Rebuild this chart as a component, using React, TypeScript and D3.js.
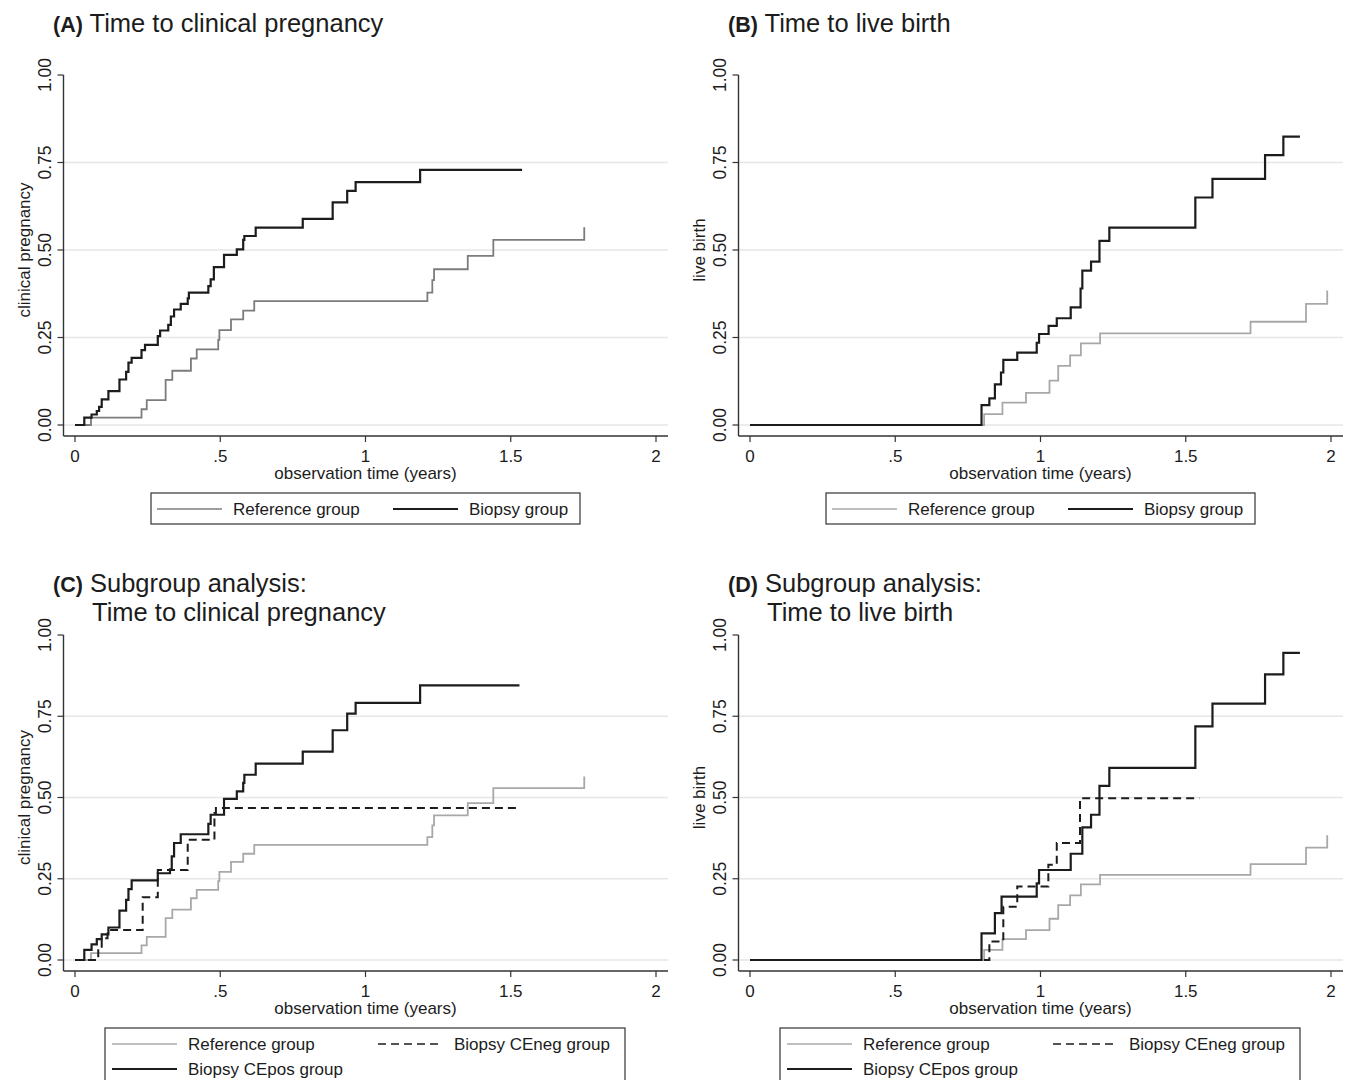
import React from 'react';
import * as d3 from 'd3';

type Pt = [number, number];

// cumulative proportions: [years, proportion]
const refPregnancy: Pt[] = [
  [0, 0], [0.055, 0.021], [0.229, 0.045], [0.247, 0.071], [0.312, 0.129], [0.335, 0.155],
  [0.399, 0.19], [0.419, 0.216], [0.493, 0.243], [0.497, 0.271], [0.537, 0.302], [0.579, 0.327],
  [0.617, 0.354], [1.213, 0.378], [1.23, 0.414], [1.236, 0.445], [1.352, 0.483], [1.44, 0.529],
  [1.753, 0.565],
];

const biopsyPregnancy: Pt[] = [
  [0, 0], [0.032, 0.021], [0.057, 0.03], [0.075, 0.04], [0.083, 0.052], [0.092, 0.073],
  [0.115, 0.097], [0.153, 0.13], [0.176, 0.152], [0.184, 0.178], [0.195, 0.192], [0.229, 0.214],
  [0.241, 0.229], [0.285, 0.254], [0.293, 0.27], [0.321, 0.286], [0.33, 0.31], [0.341, 0.33],
  [0.364, 0.346], [0.388, 0.362], [0.392, 0.378], [0.459, 0.397], [0.467, 0.416], [0.478, 0.451],
  [0.513, 0.486], [0.557, 0.502], [0.579, 0.529], [0.583, 0.54], [0.622, 0.564], [0.784, 0.589],
  [0.887, 0.636], [0.937, 0.669], [0.966, 0.694], [1.188, 0.729], [1.539, 0.729],
];

const refLiveBirth: Pt[] = [
  [0, 0], [0.806, 0.031], [0.869, 0.064], [0.95, 0.092], [1.031, 0.127], [1.061, 0.169],
  [1.102, 0.199], [1.139, 0.233], [1.205, 0.262], [1.723, 0.295], [1.914, 0.346], [1.987, 0.384],
];

const biopsyLiveBirth: Pt[] = [
  [0, 0], [0.797, 0.057], [0.824, 0.076], [0.843, 0.116], [0.864, 0.15], [0.872, 0.186],
  [0.92, 0.207], [0.987, 0.235], [0.995, 0.26], [1.028, 0.283], [1.056, 0.305], [1.104, 0.336],
  [1.138, 0.39], [1.144, 0.441], [1.174, 0.467], [1.203, 0.526], [1.237, 0.564], [1.533, 0.65],
  [1.592, 0.703], [1.773, 0.771], [1.836, 0.824], [1.893, 0.824],
];

const ceposPregnancy: Pt[] = [
  [0, 0], [0.032, 0.031], [0.057, 0.048], [0.075, 0.064], [0.092, 0.079], [0.115, 0.1],
  [0.153, 0.152], [0.176, 0.185], [0.184, 0.218], [0.195, 0.245], [0.285, 0.267], [0.327, 0.279],
  [0.333, 0.319], [0.341, 0.36], [0.364, 0.387], [0.459, 0.419], [0.467, 0.447], [0.513, 0.496],
  [0.557, 0.519], [0.579, 0.545], [0.583, 0.57], [0.622, 0.604], [0.784, 0.641], [0.887, 0.707],
  [0.937, 0.758], [0.966, 0.791], [1.188, 0.845], [1.53, 0.845],
];

const cenegPregnancy: Pt[] = [
  [0, 0], [0.08, 0.036], [0.092, 0.067], [0.112, 0.092], [0.233, 0.193], [0.285, 0.277],
  [0.388, 0.37], [0.48, 0.452], [0.485, 0.468], [1.532, 0.468],
];

const ceposLiveBirth: Pt[] = [
  [0, 0], [0.797, 0.082], [0.843, 0.144], [0.866, 0.195], [0.987, 0.236], [0.995, 0.277],
  [1.104, 0.327], [1.144, 0.408], [1.174, 0.447], [1.203, 0.536], [1.237, 0.591], [1.533, 0.719],
  [1.592, 0.789], [1.773, 0.879], [1.836, 0.945], [1.893, 0.945],
];

const cenegLiveBirth: Pt[] = [
  [0, 0], [0.824, 0.057], [0.872, 0.164], [0.92, 0.226], [1.027, 0.293], [1.056, 0.36],
  [1.136, 0.498], [1.547, 0.498],
];

const xTicks = [0, 0.5, 1, 1.5, 2];
const xTickLabels = ['0', '.5', '1', '1.5', '2'];
const yTicks = [0, 0.25, 0.5, 0.75, 1];
const yTickLabels = ['0.00', '0.25', '0.50', '0.75', '1.00'];
const gridTicks = [0, 0.25, 0.5, 0.75];

const FONT = "'Liberation Sans', Arial, Helvetica, sans-serif";
const BLACK = '#1c1c1c';
const DASH = '8,5';

type Series = { data: Pt[]; color: string; width: number; dash?: string };
type LegendItem = { label: string; color: string; width: number; dash?: string; col: number; row: number };
type LegendBox = { dx: number; w: number; h: number; cols: number[] };

// two-column single-row legend (A, B) and the wider two-row one (C, D)
const smallLegend: LegendBox = { dx: 76, w: 429, h: 31, cols: [82, 318] };
const wideLegend: LegendBox = { dx: 30, w: 520, h: 70, cols: [37, 303] };

function Panel({ left, zeroY, oneY, letter, titleLines, yTitle, series, legend, box }: {
  left: number; zeroY: number; oneY: number; letter: string; titleLines: string[]; yTitle: string;
  series: Series[]; legend: LegendItem[]; box: LegendBox;
}) {
  const x = d3.scaleLinear().domain([0, 2]).range([left, left + 581]);
  const y = d3.scaleLinear().domain([0, 1]).range([zeroY, oneY]);
  const axisX = left - 11.5;
  const axisY = zeroY + 11;
  const gridRight = left + 593;
  const line = d3.line<Pt>().x(d => x(d[0])).y(d => y(d[1])).curve(d3.curveStepAfter);

  const titleTop = oneY - 43;

  return (
    <g fontFamily={FONT} fill={BLACK}>
      {/* title */}
      <text x={left - 22} y={titleTop} fontSize={25.5}>
        <tspan fontWeight="bold" fontSize={21.5}>({letter})</tspan>
        <tspan> {titleLines[0]}</tspan>
      </text>
      {titleLines[1] && (
        <text x={left + 17} y={titleTop + 29} fontSize={25.5}>{titleLines[1]}</text>
      )}

      {/* grid */}
      {gridTicks.map(t => (
        <line key={'g' + t} x1={axisX} x2={gridRight} y1={y(t)} y2={y(t)} stroke="#e6e6e6" strokeWidth={1.5} />
      ))}

      {/* y axis */}
      <line x1={axisX} x2={axisX} y1={oneY} y2={axisY} stroke="#333" strokeWidth={1.4} />
      {yTicks.map((t, i) => (
        <g key={'y' + t}>
          <line x1={axisX - 6} x2={axisX} y1={y(t)} y2={y(t)} stroke="#333" strokeWidth={1.2} />
          <text transform={`translate(${axisX - 13},${y(t)}) rotate(-90)`} textAnchor="middle" fontSize={17.5}>
            {yTickLabels[i]}
          </text>
        </g>
      ))}
      <text transform={`translate(${axisX - 34},${(zeroY + oneY) / 2}) rotate(-90)`} textAnchor="middle" fontSize={17}>
        {yTitle}
      </text>

      {/* x axis */}
      <line x1={axisX} x2={gridRight} y1={axisY} y2={axisY} stroke="#333" strokeWidth={1.4} />
      {xTicks.map((t, i) => (
        <g key={'x' + t}>
          <line x1={x(t)} x2={x(t)} y1={axisY} y2={axisY + 6} stroke="#333" strokeWidth={1.2} />
          <text x={x(t)} y={axisY + 26} textAnchor="middle" fontSize={17}>{xTickLabels[i]}</text>
        </g>
      ))}
      <text x={x(1)} y={axisY + 43} textAnchor="middle" fontSize={17}>observation time (years)</text>

      {/* curves */}
      {series.map((s, i) => (
        <path key={'s' + i} d={line(s.data) || ''} fill="none" stroke={s.color} strokeWidth={s.width}
          strokeDasharray={s.dash} />
      ))}

      {/* legend */}
      <rect x={left + box.dx} y={zeroY + 68} width={box.w} height={box.h} fill="white" stroke="#333" strokeWidth={1.2} />
      {legend.map(it => {
        const cx = left + box.cols[it.col];
        const cy = zeroY + 84 + it.row * 25;
        return (
          <g key={it.label}>
            <line x1={cx} x2={cx + 65} y1={cy} y2={cy} stroke={it.color} strokeWidth={it.width} strokeDasharray={it.dash} />
            <text x={cx + 76} y={cy + 6} fontSize={17}>{it.label}</text>
          </g>
        );
      })}
    </g>
  );
}

export default function App() {
  const grayA = '#7c7c7c';
  const grayB = '#a8a8a8';
  return (
    <svg width={1346} height={1080} style={{ position: 'absolute', left: 0, top: 0, background: 'white' }}>
      <rect width={1346} height={1080} fill="white" />
      <Panel left={75} zeroY={425} oneY={75} letter="A" titleLines={['Time to clinical pregnancy']}
        yTitle="clinical pregnancy"
        series={[
          { data: refPregnancy, color: grayA, width: 1.8 },
          { data: biopsyPregnancy, color: BLACK, width: 2.2 },
        ]}
        legend={[
          { label: 'Reference group', color: grayA, width: 1.6, col: 0, row: 0 },
          { label: 'Biopsy group', color: BLACK, width: 2, col: 1, row: 0 },
        ]}
        box={smallLegend}
      />
      <Panel left={750} zeroY={425} oneY={75} letter="B" titleLines={['Time to live birth']}
        yTitle="live birth"
        series={[
          { data: refLiveBirth, color: grayB, width: 1.8 },
          { data: biopsyLiveBirth, color: BLACK, width: 2.2 },
        ]}
        legend={[
          { label: 'Reference group', color: grayB, width: 1.6, col: 0, row: 0 },
          { label: 'Biopsy group', color: BLACK, width: 2, col: 1, row: 0 },
        ]}
        box={smallLegend}
      />
      <Panel left={75} zeroY={960} oneY={635} letter="C" titleLines={['Subgroup analysis:', 'Time to clinical pregnancy']}
        yTitle="clinical pregnancy"
        series={[
          { data: refPregnancy, color: grayB, width: 1.8 },
          { data: cenegPregnancy, color: BLACK, width: 2, dash: DASH },
          { data: ceposPregnancy, color: BLACK, width: 2.2 },
        ]}
        legend={[
          { label: 'Reference group', color: grayB, width: 1.6, col: 0, row: 0 },
          { label: 'Biopsy CEneg group', color: BLACK, width: 1.6, dash: DASH, col: 1, row: 0 },
          { label: 'Biopsy CEpos group', color: BLACK, width: 2, col: 0, row: 1 },
        ]}
        box={wideLegend}
      />
      <Panel left={750} zeroY={960} oneY={635} letter="D" titleLines={['Subgroup analysis:', 'Time to live birth']}
        yTitle="live birth"
        series={[
          { data: refLiveBirth, color: grayB, width: 1.8 },
          { data: cenegLiveBirth, color: BLACK, width: 2, dash: DASH },
          { data: ceposLiveBirth, color: BLACK, width: 2.2 },
        ]}
        legend={[
          { label: 'Reference group', color: grayB, width: 1.6, col: 0, row: 0 },
          { label: 'Biopsy CEneg group', color: BLACK, width: 1.6, dash: DASH, col: 1, row: 0 },
          { label: 'Biopsy CEpos group', color: BLACK, width: 2, col: 0, row: 1 },
        ]}
        box={wideLegend}
      />
    </svg>
  );
}
